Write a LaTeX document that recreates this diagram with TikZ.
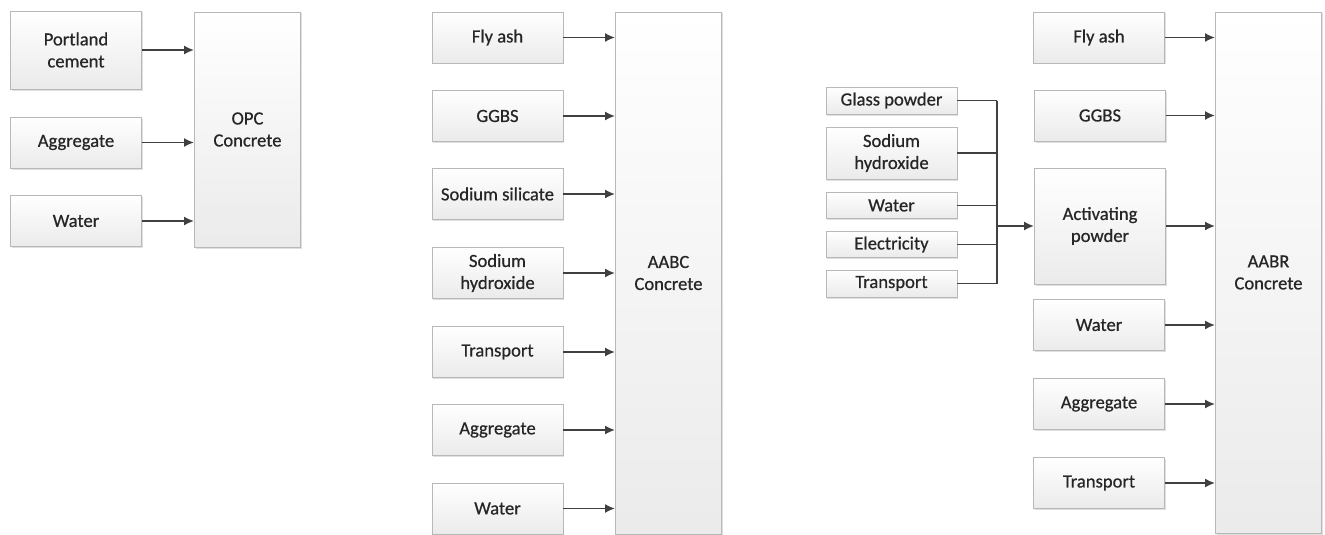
\documentclass[tikz,border=0pt]{standalone}
\usepackage{fontspec}
\setmainfont{Carlito}[FakeBold=0.6]
\usepackage{tikz}
\usetikzlibrary{arrows.meta,shadows}
\tikzset{
  box/.style={draw=black!28,line width=0.9pt,top color=white,bottom color=black!8,
    drop shadow={shadow xshift=1.2pt,shadow yshift=-1.5pt,opacity=0.25},
    align=center,inner sep=0pt,font=\fontsize{18.6}{22}\selectfont,text=black!85},
  input/.style={box,minimum width=131pt,minimum height=51pt},
  small/.style={box,minimum width=131pt,minimum height=26pt},
  product/.style={box,minimum width=106pt},
  feed/.style={draw=black!75,line width=1.8pt,-{Latex[length=10pt,width=9pt]}},
  bus/.style={draw=black!75,line width=1.8pt}
}

\begin{document}
\begin{tikzpicture}[x=1pt,y=-1pt]
    \useasboundingbox (0,0) rectangle (1325,535);
    % OPC
    \node[input,minimum height=78pt] (pc) at (76,50) {Portland\\cement};
    \node[input] (agg1) at (76,142.5) {Aggregate};
    \node[input] (wat1) at (76,221) {Water};
    \node[product,minimum height=235pt] (opc) at (247.5,129.5) {OPC\\Concrete};
    \foreach \n in {pc,agg1,wat1}
      \draw[feed] (\n.east) -- (\n.east -| opc.west);
    % AABC
    \node[input] (fa2) at (497.5,37.5) {Fly ash};
    \node[input] (gg2) at (497.5,116) {GGBS};
    \node[input] (ss2) at (497.5,194) {Sodium silicate};
    \node[input] (sh2) at (497.5,273) {Sodium\\hydroxide};
    \node[input] (tr2) at (497.5,352) {Transport};
    \node[input] (agg2) at (497.5,430) {Aggregate};
    \node[input] (wat2) at (497.5,508.5) {Water};
    \node[product,minimum height=522pt] (aabc) at (668.5,273) {AABC\\Concrete};
    \foreach \n in {fa2,gg2,ss2,sh2,tr2,agg2,wat2}
      \draw[feed] (\n.east) -- (\n.east -| aabc.west);
    % AABR
    \node[small,minimum height=27pt] (gp) at (891.5,100.5) {Glass powder};
    \node[small,minimum height=52pt] (sh3) at (891.5,153) {Sodium\\hydroxide};
    \node[small] (wat3a) at (891.5,205.5) {Water};
    \node[small] (el) at (891.5,244.5) {Electricity};
    \node[small,minimum height=27pt] (tr3a) at (891.5,283.5) {Transport};
    \coordinate (join) at (997,226);
    \foreach \n in {gp,sh3,wat3a,el,tr3a}
      \draw[bus] (\n.east) -- (\n.east -| join);
    \draw[bus] (gp.east -| join) -- (tr3a.east -| join);
    \node[input] (fa3) at (1099,37.5) {Fly ash};
    \node[input] (gg3) at (1100,115.5) {GGBS};
    \node[input,minimum height=116pt] (act) at (1100,226) {Activating\\powder};
    \node[input] (wat3) at (1099,325) {Water};
    \node[input] (agg3) at (1099,404) {Aggregate};
    \node[input] (tr3) at (1099,483) {Transport};
    \node[product,minimum height=521pt] (aabr) at (1268.5,272.5) {AABR\\Concrete};
    \draw[feed] (join) -- (act.west);
    \foreach \n in {fa3,gg3,act,wat3,agg3,tr3}
      \draw[feed] (\n.east) -- (\n.east -| aabr.west);
\end{tikzpicture}
\end{document}
